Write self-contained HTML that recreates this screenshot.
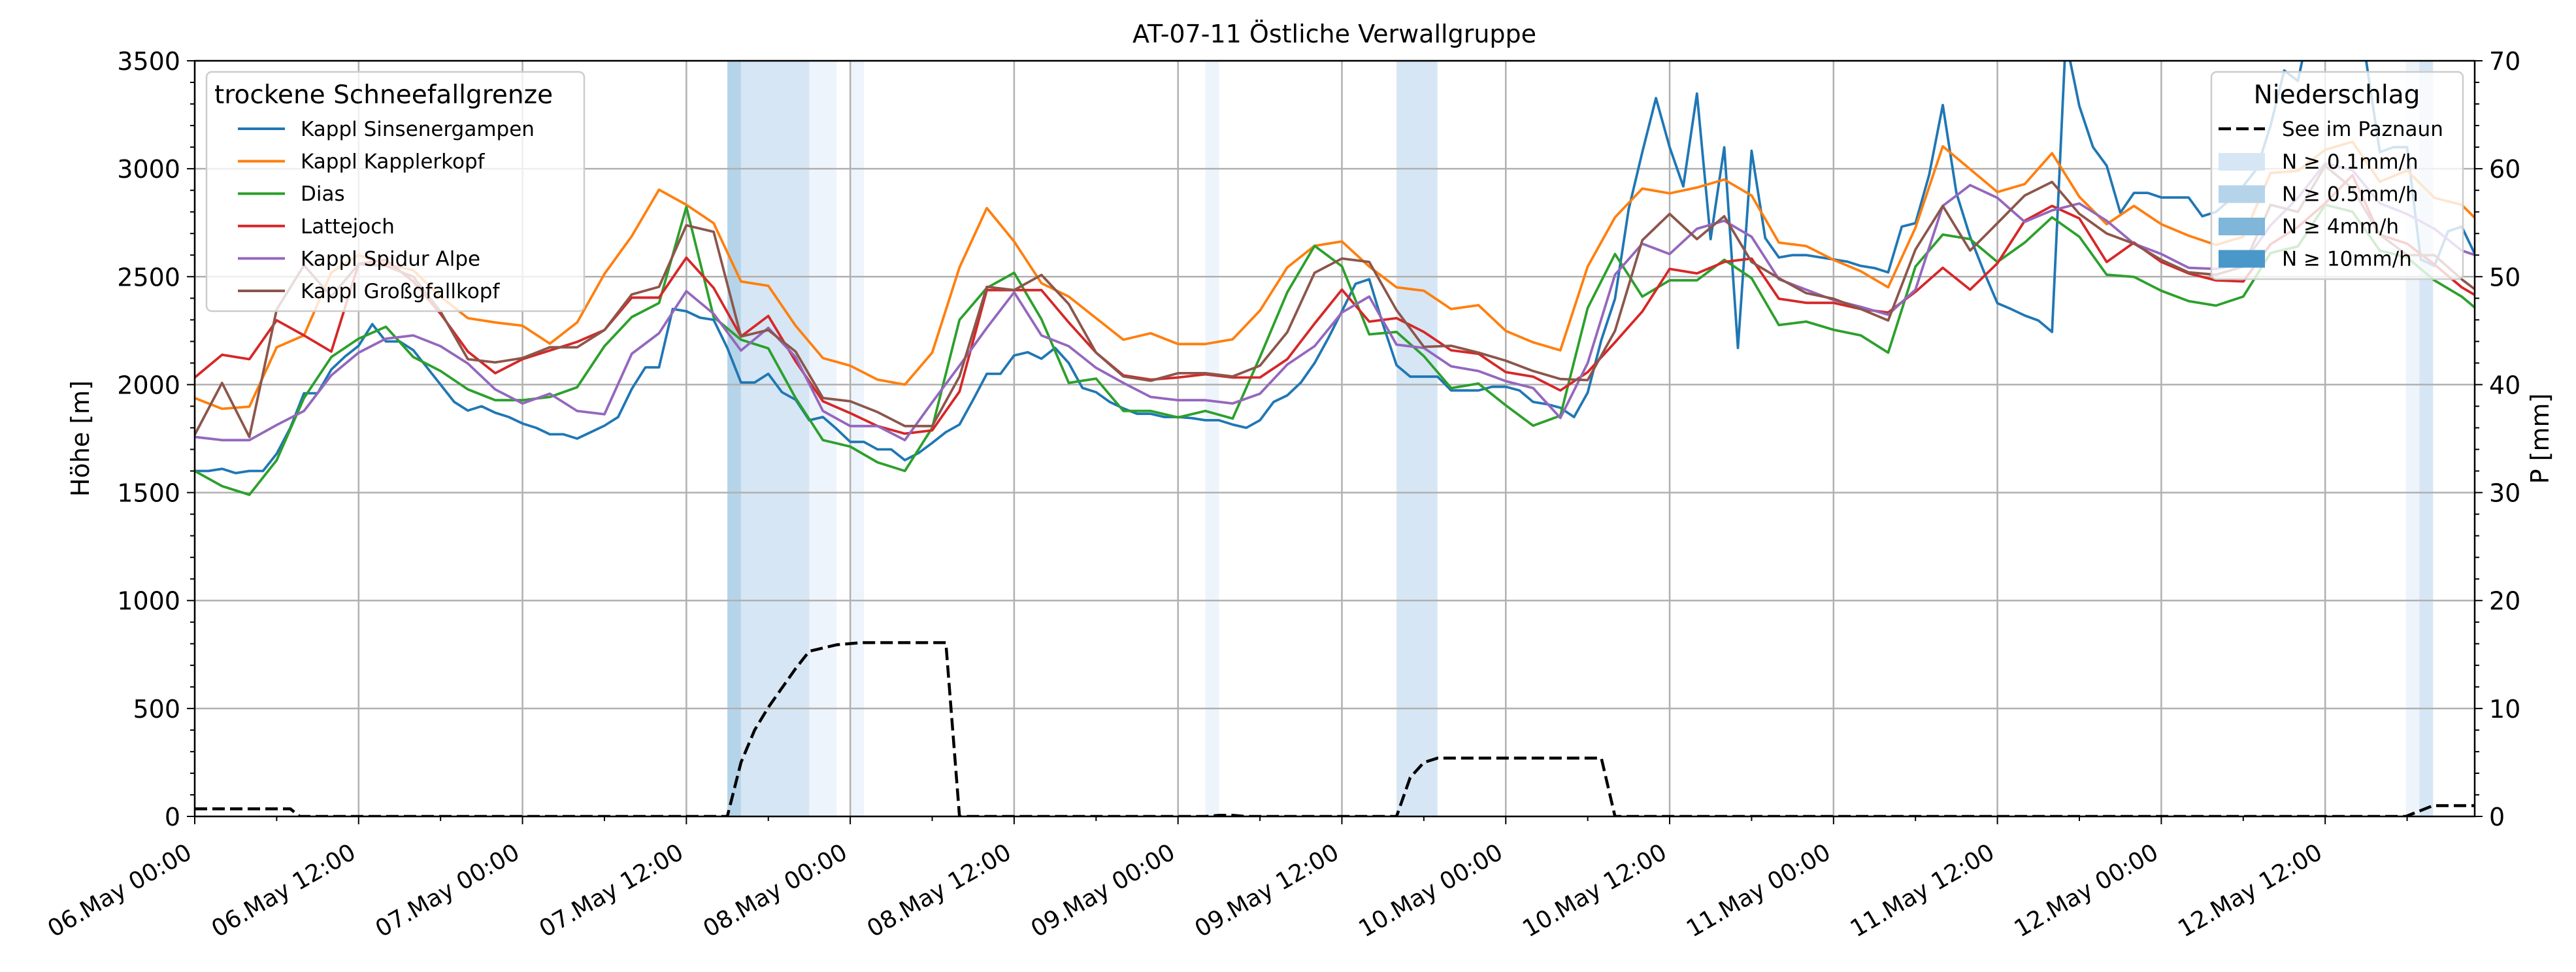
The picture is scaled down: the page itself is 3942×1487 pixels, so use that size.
<!DOCTYPE html>
<html><head><meta charset="utf-8"><style>
body{margin:0;background:#fff}
svg{display:block;font-family:"DejaVu Sans","Liberation Sans",sans-serif}
</style></head><body>
<svg id="chart" xmlns="http://www.w3.org/2000/svg" width="3942" height="1487" viewBox="0 0 3942 1487">
<rect width="3942" height="1487" fill="#fff"/>
<defs><clipPath id="plotclip"><rect x="298" y="93" width="3489" height="1156"/></clipPath></defs>
<text x="2042" y="65" font-size="38" text-anchor="middle">AT-07-11 Östliche Verwallgruppe</text>
<g id="bands" clip-path="url(#plotclip)"></g>
<g id="grid"></g>
<g id="series" clip-path="url(#plotclip)"></g>
<g id="axes"></g>
<g id="legends"></g>
</svg>
<script>
const ns="http://www.w3.org/2000/svg";
// ---- data ----
const hours2=[];for(let i=0;i<=83;i++)hours2.push(i*2);hours2.push(167);
const blueV=[1600,1600,1610,1590,1600,1600,1680,1800,1960,1960,2070,2130,2180,2280,2200,2200,2160,2080,2000,1920,1880,1900,1870,1850,1820,1800,1770,1770,1750,1780,1810,1850,1980,2080,2080,2350,2340,2310,2300,2170,2010,2010,2050,1965,1930,1835,1850,1795,1735,1735,1700,1700,1650,1683,1730,1780,1815,1930,2050,2050,2135,2150,2120,2170,2100,1985,1965,1920,1890,1865,1865,1850,1850,1845,1835,1835,1815,1800,1835,1920,1950,2010,2100,2215,2340,2467,2488,2280,2090,2037,2037,2037,1973,1973,1973,1990,1990,1973,1920,1910,1893,1850,1963,2207,2398,2812,3077,3327,3100,2918,3348,2674,3099,2170,3083,2679,2589,2600,2600,2590,2580,2570,2550,2540,2520,2732,2748,2971,3295,2887,2685,2525,2377,2350,2320,2297,2244,3600,3290,3100,3014,2796,2888,2888,2867,2867,2867,2780,2800,2855,2920,3000,3200,3455,3407,3700,3800,3800,3700,3500,3077,3100,3100,2580,2550,2710,2732,2600];
const orangeV=[1938,1888,1898,2173,2228,2520,2600,2558,2530,2408,2308,2288,2273,2190,2288,2513,2688,2903,2833,2748,2478,2458,2273,2123,2088,2023,2000,2148,2543,2818,2663,2470,2408,2308,2208,2238,2188,2188,2210,2343,2543,2643,2663,2547,2451,2435,2350,2368,2249,2196,2159,2547,2775,2908,2886,2913,2950,2876,2658,2642,2578,2525,2451,2727,3104,2998,2892,2929,3072,2870,2743,2828,2743,2690,2647,2685,2980,2990,3088,3125,2940,2992,2865,2833,2770];
const greenV=[1600,1530,1490,1650,1938,2128,2213,2268,2128,2063,1978,1928,1928,1943,1988,2178,2313,2378,2823,2313,2208,2168,1938,1743,1713,1640,1600,1800,2300,2448,2518,2303,2008,2028,1878,1878,1848,1878,1843,2128,2428,2643,2548,2233,2244,2132,1984,2005,1904,1810,1856,2355,2605,2408,2483,2483,2578,2493,2276,2292,2254,2228,2148,2547,2695,2674,2568,2658,2775,2685,2509,2499,2435,2387,2366,2408,2610,2640,2833,2801,2621,2589,2483,2408,2355];
const redV=[2033,2138,2118,2298,2228,2153,2560,2578,2478,2328,2153,2053,2118,2158,2198,2253,2403,2403,2588,2448,2223,2318,2108,1923,1868,1808,1773,1788,1968,2438,2438,2438,2288,2148,2043,2023,2033,2048,2033,2033,2118,2283,2440,2292,2308,2244,2159,2143,2058,2037,1973,2058,2196,2339,2536,2515,2568,2584,2398,2379,2379,2350,2334,2430,2541,2440,2562,2759,2828,2770,2568,2658,2568,2515,2483,2478,2650,2730,2840,2970,2695,2653,2557,2451,2414];
const purpleV=[1758,1743,1743,1813,1878,2043,2148,2213,2228,2178,2098,1978,1913,1958,1878,1863,2143,2238,2433,2328,2158,2263,2128,1878,1808,1808,1743,1918,2088,2263,2428,2228,2178,2078,2008,1943,1928,1928,1913,1958,2093,2178,2334,2408,2185,2170,2085,2063,2016,1984,1846,2100,2509,2653,2605,2722,2759,2685,2488,2440,2392,2360,2324,2440,2828,2924,2865,2754,2807,2839,2759,2653,2605,2541,2536,2560,2738,2865,3025,2993,2840,2790,2722,2621,2600];
const brownV=[1768,2008,1758,2348,2553,2408,2558,2550,2500,2338,2118,2103,2123,2173,2173,2253,2418,2453,2738,2708,2223,2253,2153,1938,1923,1873,1808,1808,2038,2453,2438,2508,2373,2148,2038,2018,2053,2053,2038,2088,2243,2518,2584,2568,2345,2175,2180,2148,2111,2063,2026,2021,2249,2669,2791,2674,2780,2568,2493,2424,2398,2350,2297,2626,2828,2621,2748,2876,2939,2791,2700,2653,2578,2520,2509,2547,2833,2800,3014,2908,2695,2600,2600,2488,2440];
const precipT=[0,7,7.7,39,40,41,42,43,44,45,47,48.8,55,56,74,75,76,77,88,89,90,91,103,104,161.9,163.9,167];
const precipV=[0.7,0.7,0,0,5.0,8.0,10.1,11.9,13.7,15.3,15.9,16.1,16.1,0,0,0.1,0.1,0,0,3.6,5.0,5.4,5.4,0,0,1.0,1.0];
const bandStart=[39,40,45,48,74,88,161.9,162.9];
const bandEnd=[40,45,47,49,75,91,162.9,163.9];
const bandLevel=[2,1,0,0,0,1,0,1];
const xTickLabels=["06.May 00:00","06.May 12:00","07.May 00:00","07.May 12:00","08.May 00:00","08.May 12:00","09.May 00:00","09.May 12:00","10.May 00:00","10.May 12:00","11.May 00:00","11.May 12:00","12.May 00:00","12.May 12:00"];
const yTicks=[0,500,1000,1500,2000,2500,3000,3500];
const pTicks=[0,10,20,30,40,50,60,70];
// ---- scales ----
const L=298,R=3787,T=93,B=1249,HMAX=166.95;
const X=h=>L+h/HMAX*(R-L);
const Y=v=>B-v/3500*(B-T);
const YP=p=>B-p/70*(B-T);
function mk(tag,attrs,parent){const e=document.createElementNS(ns,tag);for(const k in attrs)e.setAttribute(k,attrs[k]);parent.appendChild(e);return e;}
const g=id=>document.getElementById(id);
const bandColors=["#eef4fb","#d6e6f4","#b5d4e9","#7fb6d9","#4a98c9"];
bandStart.forEach((s,i)=>{
 const r=mk('rect',{x:X(s),y:T,width:X(bandEnd[i])-X(s),height:B-T,fill:bandColors[bandLevel[i]]},g('bands'));
 
 
});
for(let i=0;i<xTickLabels.length;i++){const x=X(i*12);const l=mk('line',{x1:x,x2:x,y1:T,y2:B,stroke:'#b0b0b0','stroke-width':2.5},g('grid'));}
yTicks.forEach(v=>{const y=Y(v);const l=mk('line',{x1:L,x2:R,y1:y,y2:y,stroke:'#b0b0b0','stroke-width':2.5},g('grid'));});
function line(ts,vs,color,name,dash){
 let d='';vs.forEach((v,i)=>{d+=(i?'L':'M')+X(ts[i]).toFixed(1)+','+(dash?YP(v):Y(v)).toFixed(1);});
 const p=mk('path',{d:d,fill:'none',stroke:color,'stroke-width':dash?4.5:3.8,'stroke-linejoin':'round'},g('series'));
 if(dash)p.setAttribute('stroke-dasharray','19,8');
 
 
}
const hours1=blueV.map((v,i)=>i);
line(hours1,blueV,'#1f77b4','line-kappl-sinsenergampen');
line(hours2,orangeV,'#ff7f0e','line-kappl-kapplerkopf');
line(hours2,greenV,'#2ca02c','line-dias');
line(hours2,redV,'#d62728','line-lattejoch');
line(hours2,purpleV,'#9467bd','line-kappl-spidur-alpe');
line(hours2,brownV,'#8c564b','line-kappl-grossgfallkopf');
line(precipT,precipV,'#000','line-precip-see-im-paznaun',true);
const ax=g('axes');
const fr=mk('rect',{x:L,y:T,width:R-L,height:B-T,fill:'none',stroke:'#000','stroke-width':2.5},ax);

for(let h=0;h<=HMAX;h+=6){const x=X(h);const major=h%12===0;mk('line',{x1:x,x2:x,y1:B,y2:B+(major?12:7),stroke:'#000','stroke-width':2},ax);}
xTickLabels.forEach((s,i)=>{const x=X(i*12);const t=mk('text',{x:0,y:0,'font-size':36,'text-anchor':'end',transform:`translate(${x-2},${B+62}) rotate(-30)`},ax);t.textContent=s;});
for(let v=0;v<=3500;v+=100){const y=Y(v);const major=v%500===0;mk('line',{x1:L,x2:L-(major?12:7),y1:y,y2:y,stroke:'#000','stroke-width':2},ax);}
yTicks.forEach(v=>{const t=mk('text',{x:L-22,y:Y(v)+14,'font-size':38,'text-anchor':'end'},ax);t.textContent=v;});
for(let p=0;p<=70;p+=2){const y=YP(p);const major=p%10===0;mk('line',{x1:R,x2:R+(major?12:7),y1:y,y2:y,stroke:'#000','stroke-width':2},ax);}
pTicks.forEach(p=>{const t=mk('text',{x:R+22,y:YP(p)+14,'font-size':38},ax);t.textContent=p;});
const yl=mk('text',{x:0,y:0,'font-size':38,'text-anchor':'middle',transform:`translate(136,${(T+B)/2}) rotate(-90)`},ax);yl.textContent='Höhe [m]';
const pl=mk('text',{x:0,y:0,'font-size':38,'text-anchor':'middle',transform:`translate(3900,${(T+B)/2}) rotate(-90)`},ax);pl.textContent='P [mm]';
const lg=g('legends');
const b1=mk('rect',{x:316,y:110,width:578,height:366,rx:8,fill:'#fff','fill-opacity':0.8,stroke:'#cccccc','stroke-width':2.5},lg);

const t1=mk('text',{x:328,y:158,'font-size':39},lg);t1.textContent='trockene Schneefallgrenze';
const names=['Kappl Sinsenergampen','Kappl Kapplerkopf','Dias','Lattejoch','Kappl Spidur Alpe','Kappl Großgfallkopf'];
const cols=['#1f77b4','#ff7f0e','#2ca02c','#d62728','#9467bd','#8c564b'];
names.forEach((n,i)=>{const y=197+i*49.6;mk('line',{x1:364,x2:436,y1:y,y2:y,stroke:cols[i],'stroke-width':4},lg);const t=mk('text',{x:460,y:y+11,'font-size':31},lg);t.textContent=n;});
const b2=mk('rect',{x:3384,y:110,width:385,height:317,rx:8,fill:'#fff','fill-opacity':0.8,stroke:'#cccccc','stroke-width':2.5},lg);

const t2=mk('text',{x:3576,y:158,'font-size':39,'text-anchor':'middle'},lg);t2.textContent='Niederschlag';
mk('line',{x1:3395,x2:3466,y1:197,y2:197,stroke:'#000','stroke-width':4.5,'stroke-dasharray':'19,8'},lg);
const e0=mk('text',{x:3492,y:208,'font-size':31},lg);e0.textContent='See im Paznaun';
const pn=['N ≥ 0.1mm/h','N ≥ 0.5mm/h','N ≥ 4mm/h','N ≥ 10mm/h'];
pn.forEach((n,i)=>{const y=247+i*49.5;mk('rect',{x:3395,y:y-13,width:71,height:27,fill:bandColors[i+1]},lg);const t=mk('text',{x:3492,y:y+11,'font-size':31},lg);t.textContent=n;});
</script>
</body></html>
